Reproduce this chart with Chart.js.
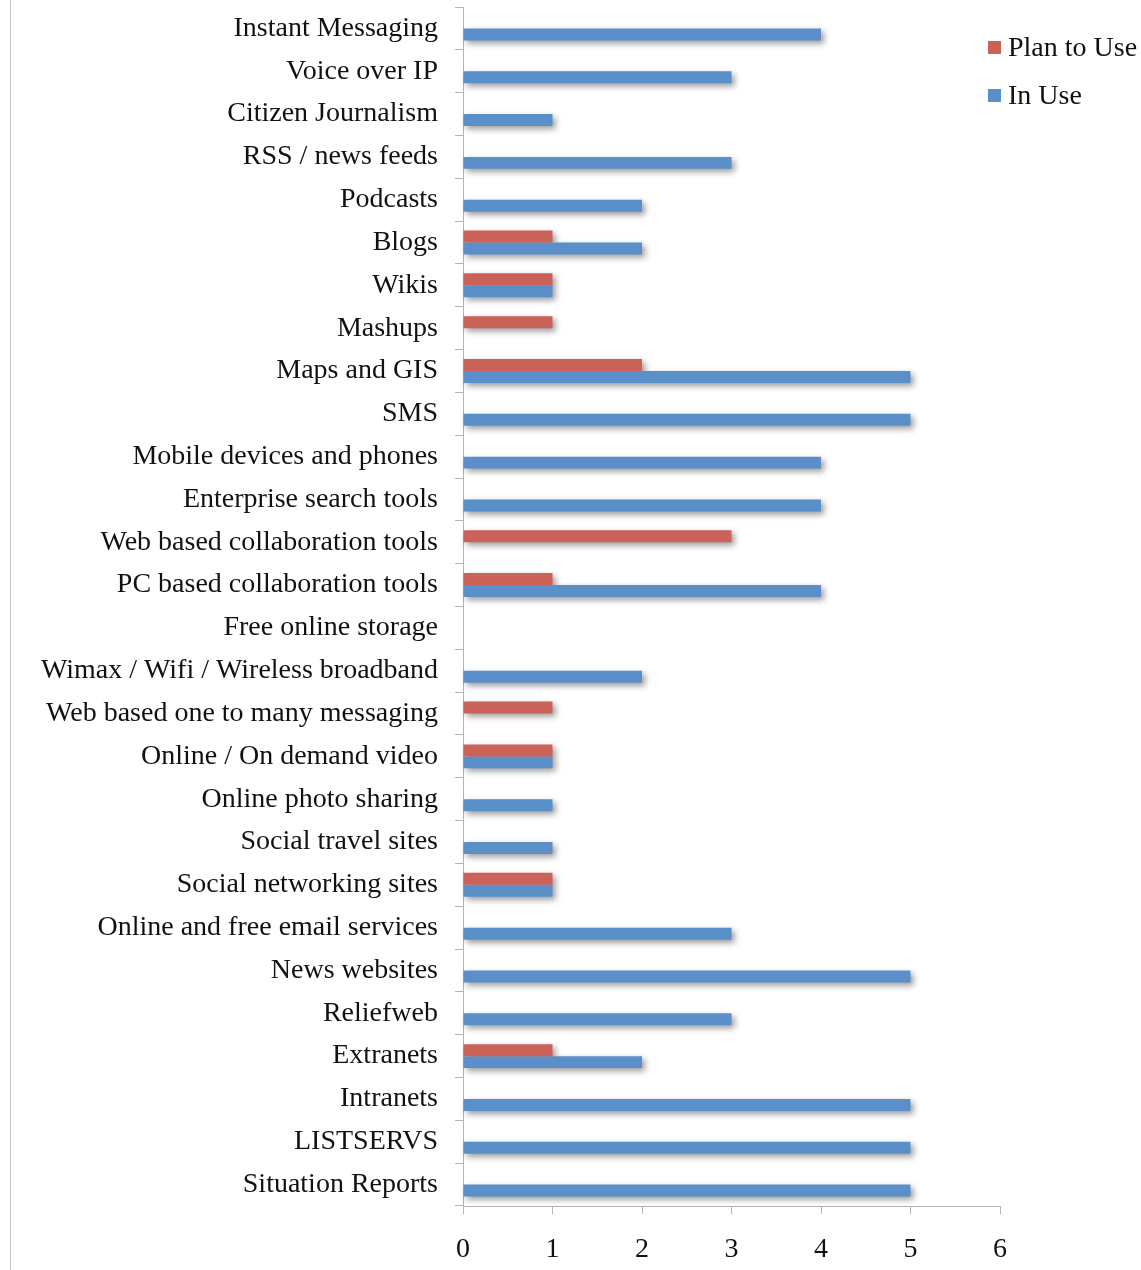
<!DOCTYPE html>
<html>
<head>
<meta charset="utf-8">
<script src="https://cdn.jsdelivr.net/npm/chart.js@4/dist/chart.umd.min.js"></script>
<style>
  html, body { margin: 0; padding: 0; background: #fff; }
  #wrap { position: relative; width: 1141px; height: 1270px; }
  #c { display: block; }
  #leftline { position: absolute; left: 10px; top: 0; width: 1px; height: 1270px; background: #c4c4c4; }
  #legend { position: absolute; left: 988px; top: 31px; font-family: "Liberation Serif", serif; font-size: 28px; color: #111; }
  #legend .item { display: flex; align-items: center; height: 32px; margin-bottom: 16px; white-space: nowrap; }
  #legend .sw { width: 13px; height: 13px; margin-right: 7px; }
</style>
</head>
<body>
<div id="wrap">
  <canvas id="c" width="1141" height="1270"></canvas>
  <div id="leftline"></div>
  <div id="legend"></div>
</div>
<script>
const categories = [
  "Instant Messaging", "Voice over IP", "Citizen Journalism", "RSS / news feeds", "Podcasts",
  "Blogs", "Wikis", "Mashups", "Maps and GIS", "SMS",
  "Mobile devices and phones", "Enterprise search tools", "Web based collaboration tools",
  "PC based collaboration tools", "Free online storage", "Wimax / Wifi / Wireless broadband",
  "Web based one to many messaging", "Online / On demand video", "Online photo sharing",
  "Social travel sites", "Social networking sites", "Online and free email services",
  "News websites", "Reliefweb", "Extranets", "Intranets", "LISTSERVS", "Situation Reports"
];
const planToUse = [0,0,0,0,0, 1,1,1,2,0, 0,0,3,1,0, 0,1,1,0,0, 1,0,0,0,1, 0,0,0];
const inUse     = [4,3,1,3,2, 2,1,0,5,5, 4,4,0,4,0, 2,0,1,1,1, 1,3,5,3,2, 5,5,5];
const xTicks = [0,1,2,3,4,5,6];
const seriesNames = ["Plan to Use", "In Use"];
const seriesColors = ["#CB625A", "#5A8FC9"];

const FONT = "Liberation Serif";

// Draw soft drop shadows for all bars first (shadow only), then the bars themselves.
const shadowPlugin = {
  id: 'barShadow',
  beforeDatasetsDraw(chart) {
    const c = chart.ctx;
    const SHIFT = 10000;
    c.save();
    c.shadowColor = 'rgba(0,0,0,0.4)';
    c.shadowBlur = 6;
    c.shadowOffsetX = SHIFT + 3;
    c.shadowOffsetY = 3;
    c.fillStyle = '#000';
    chart.data.datasets.forEach((ds, i) => {
      const meta = chart.getDatasetMeta(i);
      meta.data.forEach(el => {
        const p = el.getProps(['x', 'y', 'base', 'height'], true);
        const w = p.x - p.base;
        if (w <= 0) return;
        c.fillRect(p.base - SHIFT, p.y - p.height / 2, w, p.height);
      });
    });
    c.restore();
  }
};

const chart = new Chart(document.getElementById('c'), {
  type: 'bar',
  data: {
    labels: categories,
    datasets: [
      { label: seriesNames[0], data: planToUse, backgroundColor: seriesColors[0], borderWidth: 0 },
      { label: seriesNames[1], data: inUse, backgroundColor: seriesColors[1], borderWidth: 0 }
    ]
  },
  options: {
    indexAxis: 'y',
    responsive: false,
    animation: false,
    devicePixelRatio: 1,
    categoryPercentage: 0.56,
    barPercentage: 1.0,
    layout: { autoPadding: false, padding: { top: 7, right: 141, left: 0, bottom: 0 } },
    plugins: { legend: { display: false }, tooltip: { enabled: false } },
    scales: {
      x: {
        min: 0, max: 6,
        afterBuildTicks(scale) { scale.ticks = xTicks.map(v => ({ value: v })); },
        afterFit(scale) { scale.height = 1270 - 1206; scale.paddingLeft = 0; scale.paddingRight = 0; },
        grid: { drawOnChartArea: false, drawTicks: true, tickLength: 8, color: '#b4b4b4', lineWidth: 1 },
        border: { display: true, color: '#b4b4b4', width: 1 },
        ticks: { font: { family: FONT, size: 28 }, color: '#111', padding: 19, maxRotation: 0 }
      },
      y: {
        afterFit(scale) { scale.width = 463; scale.paddingTop = 0; scale.paddingBottom = 0; },
        grid: { drawOnChartArea: false, drawTicks: true, tickLength: 8, offset: true, color: '#b4b4b4', lineWidth: 1 },
        border: { display: true, color: '#b4b4b4', width: 1 },
        ticks: { font: { family: FONT, size: 28 }, color: '#111', padding: 17, autoSkip: false }
      }
    }
  },
  plugins: [shadowPlugin]
});

const lg = document.getElementById('legend');
seriesNames.forEach((n, i) => {
  const d = document.createElement('div'); d.className = 'item';
  const s = document.createElement('div'); s.className = 'sw'; s.style.background = seriesColors[i];
  const t = document.createElement('span'); t.textContent = n;
  d.appendChild(s); d.appendChild(t); lg.appendChild(d);
});
</script>
</body>
</html>
